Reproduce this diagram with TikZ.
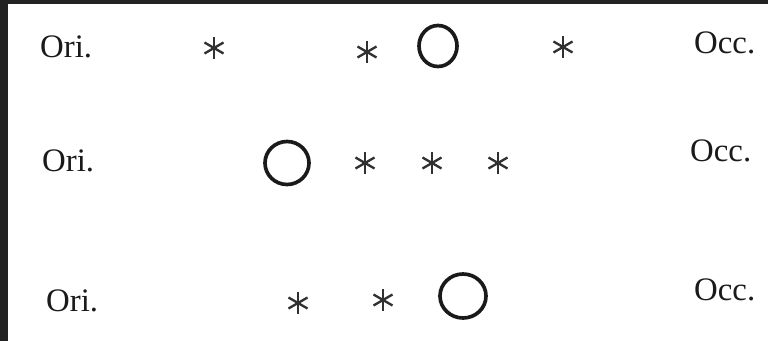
\documentclass[tikz,border=0pt]{standalone}
\usepackage{fontspec}
\setmainfont{Liberation Serif}
\usetikzlibrary{calc,shapes.geometric}
\definecolor{Frame}{HTML}{222222}
\definecolor{Ink}{HTML}{1A1A1A}
\tikzset{
  side/.style={anchor=base west, inner sep=0pt, text=Ink, font=\fontsize{28}{30}\selectfont},
  jupiter/.style={ellipse, draw=Ink, line width=0.11cm, inner sep=0pt},
  moon/.style={minimum size=0.72cm, inner sep=0pt, path picture={
    \foreach \a in {90,30,150}
      \draw[Ink!90, line width=0.07cm] ($(path picture bounding box.center)+(\a:0.33cm)$) -- ($(path picture bounding box.center)+(\a+180:0.33cm)$);}}
}

\begin{document}
\begin{tikzpicture}[x=0.03cm, y=-0.03cm]
\useasboundingbox (0,0) rectangle (768,341);
\fill[Frame] (0,0) rectangle (768,341);
\fill[white] (8,4) rectangle (768,341);

\node[side] (o1) at (40,58) {Ori.};
\node[moon] (m11) at (214,48) {};
\node[moon] (m12) at (367,52) {};
\node[jupiter, minimum width=1.14cm, minimum height=1.23cm] (j1) at (438,46) {};
\node[moon] (m13) at (563,47) {};
\node[side] (c1) at (694,54) {Occ.};

\node[side] (o2) at (42,171) {Ori.};
\node[jupiter, minimum width=1.32cm, minimum height=1.29cm] (j2) at (287,163) {};
\node[moon] (m21) at (365,163) {};
\node[moon] (m22) at (432,163) {};
\node[moon] (m23) at (498,163) {};
\node[side] (c2) at (690,161) {Occ.};

\node[side] (o3) at (46,311) {Ori.};
\node[moon] (m31) at (298,303) {};
\node[moon] (m32) at (383,300) {};
\node[jupiter, minimum width=1.38cm, minimum height=1.32cm] (j3) at (463,296) {};
\node[side] (c3) at (694,300) {Occ.};
\end{tikzpicture}
\end{document}
